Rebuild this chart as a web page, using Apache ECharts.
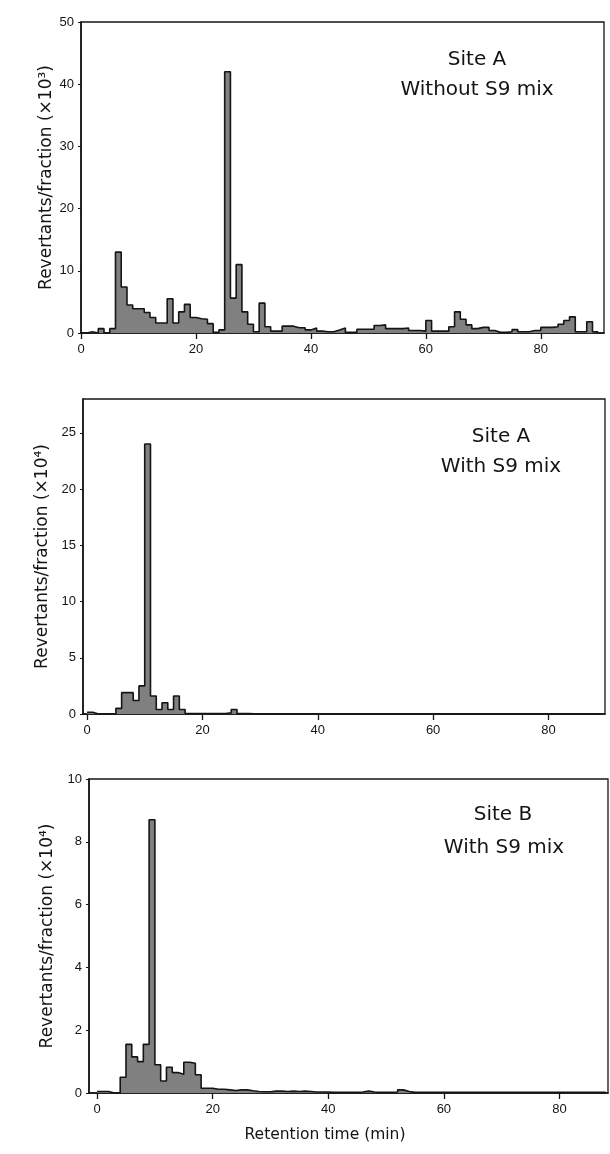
<!DOCTYPE html>
<html>
<head>
<meta charset="utf-8">
<script src="https://cdn.jsdelivr.net/npm/echarts@6/dist/echarts.min.js"></script>
<style>
  html, body { margin: 0; padding: 0; background: #ffffff; }
  #chart { width: 610px; height: 1154px; }
</style>
</head>
<body>
<div id="chart"></div>
<script>
// Mutagenic activity of HPLC fractions (1-min fractions, fraction k spans k..k+1 min)
const timeTicks = [0, 20, 40, 60, 80];
const yTicksSiteANoS9 = [0, 10, 20, 30, 40, 50];
const yTicksSiteAS9 = [0, 5, 10, 15, 20, 25];
const yTicksSiteBS9 = [0, 2, 4, 6, 8, 10];

// Site A, without S9 mix (revertants/fraction, x10^3)
const siteANoS9 = [
  0, 0.2, 0, 0.7, 0, 0.7, 13, 7.4, 4.5, 3.9,
  3.9, 3.3, 2.5, 1.6, 1.6, 5.5, 1.6, 3.4, 4.6, 2.5,
  2.3, 2.2, 1.5, 0.1, 0.5, 42, 5.6, 11, 3.4, 1.4,
  0.2, 4.8, 1.0, 0.3, 0.3, 1.1, 1.1, 0.85, 0.85, 0.5,
  0.8, 0.3, 0.2, 0.2, 0.5, 0.8, 0.1, 0.1, 0.6, 0.6,
  0.6, 1.2, 1.3, 0.7, 0.7, 0.7, 0.8, 0.4, 0.4, 0.3,
  2.0, 0.3, 0.3, 0.3, 1.0, 3.4, 2.2, 1.3, 0.7, 0.9,
  0.9, 0.4, 0.1, 0.1, 0.2, 0.55, 0.2, 0.2, 0.4, 0.4,
  0.9, 0.9, 1.0, 1.4, 2.0, 2.6, 0.2, 0.2, 1.8, 0.2
];

// Site A, with S9 mix (revertants/fraction, x10^4)
const siteAS9 = [
  0.15, 0, 0, 0, 0, 0.5, 1.9, 1.9, 1.2, 2.5,
  24, 1.6, 0.4, 1.0, 0.4, 1.6, 0.4, 0.05, 0.05, 0.05,
  0.05, 0.05, 0.05, 0.05, 0.1, 0.4, 0.03, 0.03, 0.02, 0.02,
  0, 0, 0, 0, 0, 0, 0, 0, 0, 0,
  0, 0, 0, 0, 0, 0, 0, 0, 0, 0,
  0, 0, 0, 0, 0, 0, 0, 0, 0, 0,
  0, 0, 0, 0, 0, 0, 0, 0, 0, 0,
  0, 0, 0, 0, 0, 0, 0, 0, 0, 0,
  0, 0, 0, 0, 0, 0, 0, 0, 0
];

// Site B, with S9 mix (revertants/fraction, x10^4)
const siteBS9 = [
  0.05, 0.05, 0, 0, 0.5, 1.55, 1.15, 1.0, 1.55, 8.7,
  0.9, 0.38, 0.82, 0.65, 0.6, 0.98, 0.95, 0.58, 0.15, 0.15,
  0.12, 0.12, 0.1, 0.08, 0.1, 0.1, 0.07, 0.05, 0.04, 0.04,
  0.06, 0.06, 0.05, 0.06, 0.05, 0.06, 0.05, 0.03, 0.03, 0.03,
  0.02, 0.02, 0.02, 0.02, 0.02, 0.03, 0.06, 0.03, 0.02, 0.02,
  0.02, 0.03, 0.1, 0.05, 0.02, 0.02, 0.02, 0.02, 0.02, 0.02,
  0.02, 0.02, 0.02, 0.02, 0.02, 0.02, 0.02, 0.02, 0.02, 0.02,
  0.02, 0.02, 0.02, 0.02, 0.02, 0.02, 0.02, 0.02, 0.02, 0.02,
  0.02, 0.02, 0.02, 0.02, 0.02, 0.02, 0.02, 0.02
];

const panelLabels = [
  ['Site A', 'Without S9 mix'],
  ['Site A', 'With S9 mix'],
  ['Site B', 'With S9 mix']
];
const yNames = [
  'Revertants/fraction (×10³)',
  'Revertants/fraction (×10⁴)',
  'Revertants/fraction (×10⁴)'
];
const xName = 'Retention time (min)';

// fraction k drawn as a flat step from k to k+1
function toSteps(values) {
  const pts = values.map((v, k) => [k, v]);
  pts.push([values.length, values[values.length - 1]]);
  return pts;
}

const INK = '#141414';
const FILL = '#808080';
const tickFont = '"Liberation Sans", Arial, sans-serif';
const textFont = '"DejaVu Sans", sans-serif';

const grids = [
  { left: 81, top: 22, width: 523, height: 311 },
  { left: 83, top: 399, width: 522, height: 315 },
  { left: 89, top: 779, width: 519, height: 314 }
];
const xRanges = [[0, 91], [-0.7, 89.8], [-1.4, 88.4]];
const yRanges = [[0, 50], [0, 28], [0, 10]];
const yNameGaps = [26, 32, 33];
const yTickSets = [yTicksSiteANoS9, yTicksSiteAS9, yTicksSiteBS9];
const seriesValues = [siteANoS9, siteAS9, siteBS9];

// annotation anchor points (centre of each text line)
const labelAnchors = [
  [[477, 60], [477, 90]],
  [[501, 437], [501, 467]],
  [[503, 815], [504, 848]]
];

const labelGraphics = [];
panelLabels.forEach((lines, i) => {
  lines.forEach((txt, j) => {
    labelGraphics.push({
      type: 'text',
      x: labelAnchors[i][j][0],
      y: labelAnchors[i][j][1],
      style: { text: txt, fontFamily: textFont, fontSize: 20, fill: INK, textAlign: 'center', textVerticalAlign: 'middle' }
    });
  });
});
labelGraphics.push({
  type: 'text',
  x: 325,
  y: 1135,
  style: { text: xName, fontFamily: textFont, fontSize: 15.5, fill: INK, textAlign: 'center', textVerticalAlign: 'middle' }
});

const option = {
  backgroundColor: '#ffffff',
  animation: false,
  grid: grids.map(g => Object.assign({ show: true, borderColor: INK, borderWidth: 1.3, backgroundColor: 'transparent' }, g)),
  xAxis: grids.map((g, i) => ({
    type: 'value',
    gridIndex: i,
    min: xRanges[i][0],
    max: xRanges[i][1],
    axisLine: { show: true, onZero: false, lineStyle: { color: INK, width: 1.6 } },
    axisTick: { show: true, inside: false, length: 6, customValues: timeTicks, lineStyle: { color: INK, width: 1.3 } },
    axisLabel: { customValues: timeTicks, margin: 10, fontFamily: tickFont, fontSize: 13, color: INK },
    splitLine: { show: false }
  })),
  yAxis: grids.map((g, i) => ({
    type: 'value',
    gridIndex: i,
    min: yRanges[i][0],
    max: yRanges[i][1],
    name: yNames[i],
    nameLocation: 'middle',
    nameGap: yNameGaps[i],
    nameMoveOverlap: false,
    nameTextStyle: { fontFamily: textFont, fontSize: 17, color: INK },
    axisLine: { show: true, onZero: false, lineStyle: { color: INK, width: 1.6 } },
    axisTick: { show: true, inside: false, length: 3, customValues: yTickSets[i], lineStyle: { color: INK, width: 1 } },
    axisLabel: { customValues: yTickSets[i], margin: 7, fontFamily: tickFont, fontSize: 13, color: INK },
    splitLine: { show: false }
  })),
  series: seriesValues.map((vals, i) => ({
    type: 'line',
    xAxisIndex: i,
    yAxisIndex: i,
    step: 'end',
    showSymbol: false,
    data: toSteps(vals),
    lineStyle: { color: INK, width: 1.6 },
    areaStyle: { color: FILL, opacity: 1 }
  })),
  graphic: labelGraphics
};

const chart = echarts.init(document.getElementById('chart'), null, { renderer: 'canvas' });
chart.setOption(option);
</script>
</body>
</html>
